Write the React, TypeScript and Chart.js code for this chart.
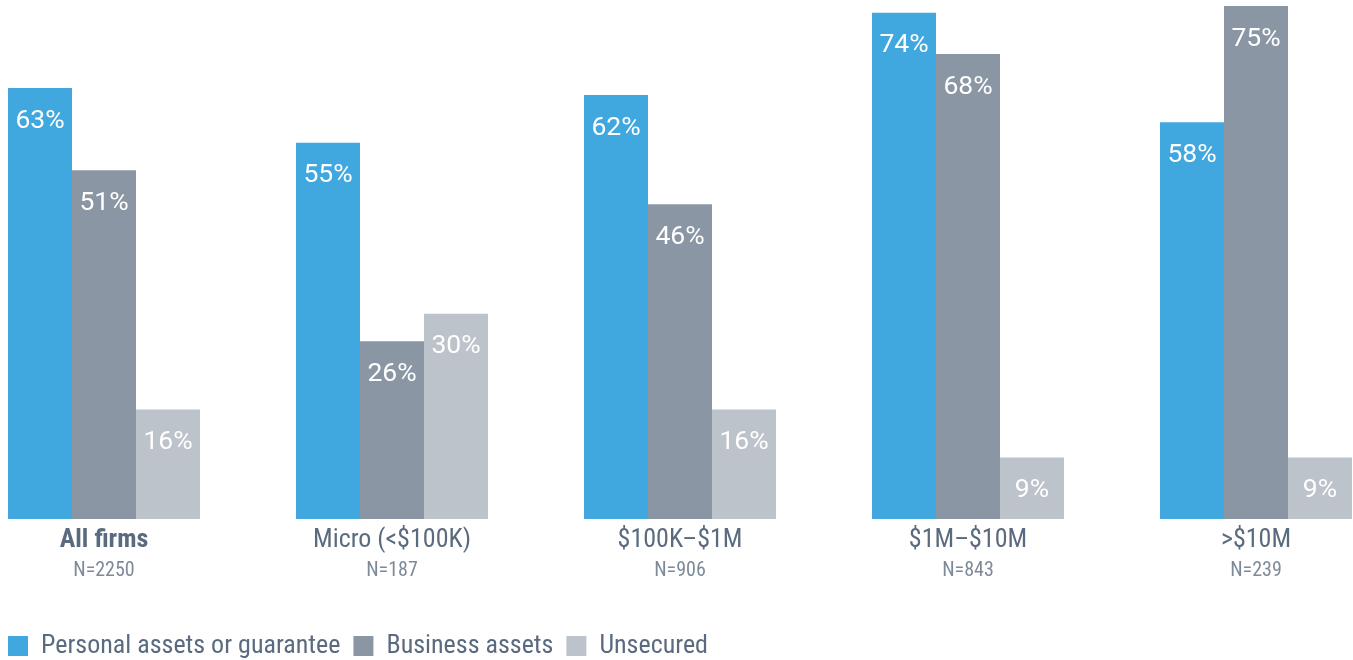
import React, { useEffect, useRef } from "react";
import { Chart, registerables } from "chart.js";

Chart.register(...registerables);

const categories = ["All firms", "Micro (<$100K)", "$100K–$1M", "$1M–$10M", ">$10M"];
const sampleSizes = ["N=2250", "N=187", "N=906", "N=843", "N=239"];
const personalAssets = [63, 55, 62, 74, 58];
const businessAssets = [51, 26, 46, 68, 75];
const unsecured = [16, 30, 16, 9, 9];
const seriesNames = ["Personal assets or guarantee", "Business assets", "Unsecured"];
const seriesColors = ["#41a8df", "#8a96a4", "#bdc3ca"];

const CONDENSED = "'Roboto Condensed', 'Liberation Sans Narrow', 'DejaVu Sans Condensed', sans-serif";
const LABEL_COLOR = "#5b6b7f";
const N_COLOR = "#7d8a9a";

const valueLabelPlugin = {
  id: "valueLabels",
  afterDatasetsDraw(chart: any) {
    const ctx = chart.ctx;
    ctx.save();
    ctx.fillStyle = "#ffffff";
    ctx.font = "26.5px Roboto, sans-serif";
    ctx.textAlign = "center";
    ctx.textBaseline = "middle";
    chart.data.datasets.forEach((ds: any, di: number) => {
      const meta = chart.getDatasetMeta(di);
      meta.data.forEach((el: any, i: number) => {
        ctx.fillText(ds.data[i] + "%", el.x, el.y + 33);
      });
    });
    ctx.restore();
  },
};

const sampleSizePlugin = {
  id: "sampleSizes",
  afterDraw(chart: any) {
    const ctx = chart.ctx;
    const xs = chart.scales.x;
    ctx.save();
    ctx.fillStyle = N_COLOR;
    ctx.font = "20px " + CONDENSED;
    ctx.textAlign = "center";
    ctx.textBaseline = "middle";
    sampleSizes.forEach((s, i) => {
      ctx.fillText(s, xs.getPixelForValue(i), 571);
    });
    ctx.restore();
  },
};

export default function App() {
  const canvasRef = useRef<HTMLCanvasElement | null>(null);

  useEffect(() => {
    if (!canvasRef.current) return;
    const data = [personalAssets, businessAssets, unsecured];
    const chart = new Chart(canvasRef.current, {
      type: "bar",
      data: {
        labels: categories,
        datasets: data.map((d, i) => ({
          label: seriesNames[i],
          data: d,
          backgroundColor: seriesColors[i],
          borderWidth: 0,
          categoryPercentage: 192 / 288,
          barPercentage: 1,
          clip: false as any,
        })),
      },
      options: {
        responsive: false,
        animation: false,
        events: [],
        layout: { padding: { top: 6, left: 0, right: 0, bottom: 0 } },
        plugins: {
          tooltip: { enabled: false },
          legend: {
            position: "bottom",
            align: "start",
            labels: {
              boxWidth: 20,
              boxHeight: 20,
              padding: 13,
              color: LABEL_COLOR,
              font: { family: CONDENSED, size: 26 },
            },
          },
        },
        scales: {
          x: {
            offset: false,
            grid: { display: false, drawTicks: false },
            border: { display: false },
            ticks: {
              padding: 6,
              color: LABEL_COLOR,
              font: (c: any) => ({
                family: CONDENSED,
                size: 26,
                weight: c.index === 0 ? "bold" : "normal",
              }),
            },
            afterFit: (s: any) => {
              s.height = 101;
            },
          },
          y: {
            min: 0,
            max: 75,
            grid: { display: false, drawTicks: false },
            border: { display: false },
            ticks: { display: false },
            afterFit: (s: any) => {
              s.width = 109;
            },
          },
          y2: {
            position: "right",
            min: 0,
            max: 75,
            grid: { display: false, drawTicks: false },
            border: { display: false },
            ticks: { display: false },
            afterFit: (s: any) => {
              s.width = 97;
            },
          },
        },
      },
      plugins: [valueLabelPlugin, sampleSizePlugin],
    });
    return () => chart.destroy();
  }, []);

  return (
    <div
      style={{
        position: "absolute",
        left: 0,
        top: 0,
        width: 1353,
        height: 660,
        overflow: "hidden",
        background: "#ffffff",
      }}
    >
      <canvas
        ref={canvasRef}
        width={1358}
        height={669}
        style={{ position: "absolute", left: -5, top: 0, width: 1358, height: 669 }}
      />
    </div>
  );
}
